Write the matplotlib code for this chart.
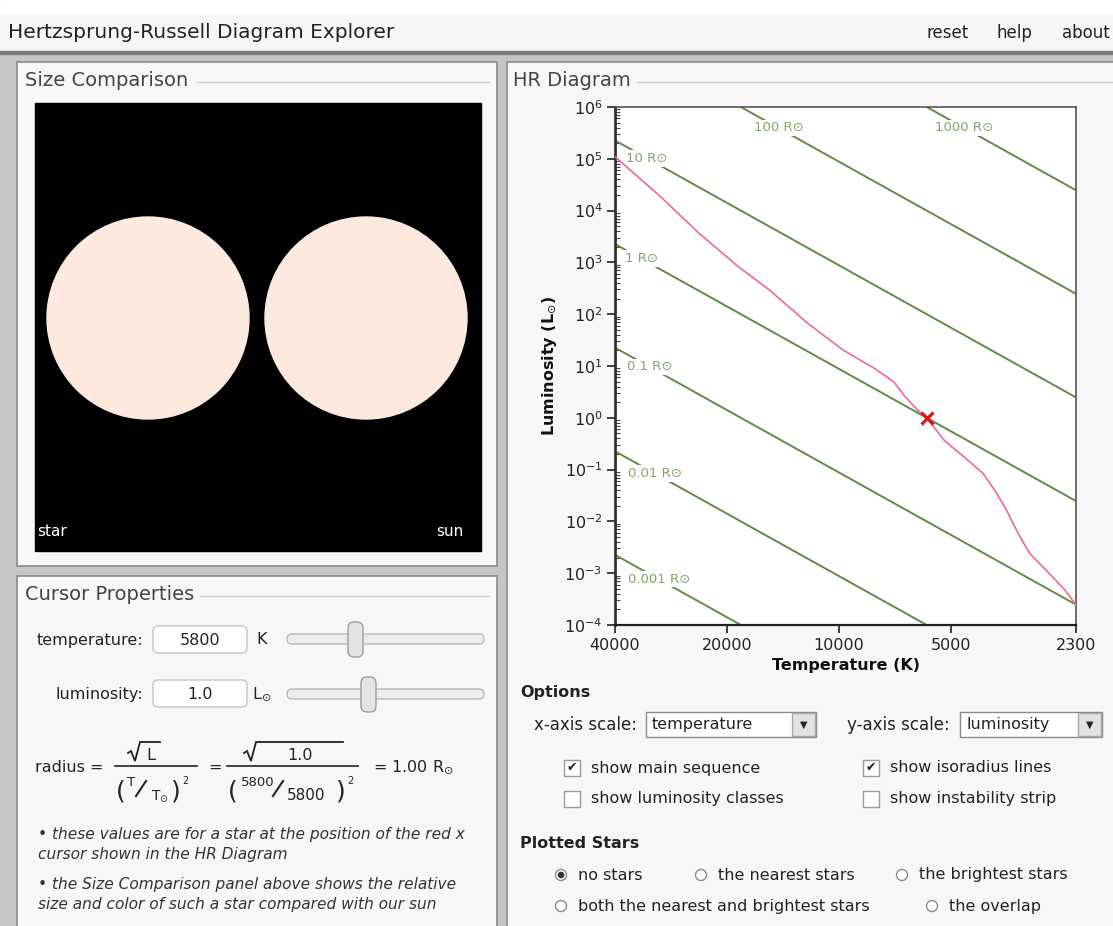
import numpy as np
import matplotlib.pyplot as plt
from matplotlib.patches import Rectangle, FancyBboxPatch, Circle
from matplotlib.ticker import FixedLocator, FixedFormatter, NullLocator, LogLocator

plt.rcParams['font.family'] = ['DejaVu Sans']
plt.rcParams['mathtext.fontset'] = 'dejavusans'

# main sequence (temperature K, luminosity Lsun)
ms_temp = [40000, 30170, 23720, 18640, 15380, 13970, 12100, 9740, 8040,
           7120, 6640, 6160, 5800, 5210, 4614, 4093, 3760, 3540, 3294, 3063,
           2718, 2468, 2300]
ms_lum = [1.10e5, 1.86e4, 3.6e3, 830, 295, 162, 66, 20.4, 9.1,
          5.0, 2.6, 1.45, 1.0, 0.37, 0.178, 0.085, 0.035, 0.0166, 0.0059, 0.0024,
          0.001, 4.8e-4, 2.45e-4]

# isoradius lines (solar radii) and where their labels sit
iso_radii = [0.001, 0.01, 0.1, 1, 10, 100, 1000]
iso_labels = ['0.001 R⊙', '0.01 R⊙', '0.1 R⊙', '1 R⊙', '10 R⊙', '100 R⊙', '1000 R⊙']
iso_label_temp = [30500, 31200, 32300, 33980, 32800, 14530, 4606]

sun_temp = 5800
cursor_temp = 5800
cursor_lum = 1.0

x_ticks = [40000, 20000, 10000, 5000, 2300]
x_ticklabels = ['40000', '20000', '10000', '5000', '2300']
y_exponents = [-4, -3, -2, -1, 0, 1, 2, 3, 4, 5, 6]

# size comparison panel
size_labels = ['star', 'sun']
cursor_radius = np.sqrt(cursor_lum) / (cursor_temp / sun_temp) ** 2
size_radii = [cursor_radius, 1.0]

W, H = 1113, 926
fig = plt.figure(figsize=(W / 100, H / 100), dpi=100)

# background layer drawn in pixel coordinates
bg = fig.add_axes([0, 0, 1, 1])
bg.set_xlim(0, W)
bg.set_ylim(H, 0)
bg.axis('off')

ink = '#222222'
bg.add_patch(Rectangle((0, 0), W, H, color='#c6c6c6'))
bg.add_patch(Rectangle((0, 0), W, 15, color='white'))
bg.add_patch(Rectangle((0, 15), W, 37, color='#f6f6f6'))
bg.add_patch(Rectangle((0, 51), W, 3, color='#7d7d7d'))

bg.text(8, 33, 'Hertzsprung-Russell Diagram Explorer', fontsize=14.5,
        color=ink, va='center')
bg.text(927, 33, 'reset', fontsize=12, color=ink, va='center')
bg.text(997, 33, 'help', fontsize=12, color=ink, va='center')
bg.text(1110, 33, 'about', fontsize=12, color=ink, va='center', ha='right')

# panels
for (x0, y0, w, h) in [(17, 62, 480, 504), (17, 576, 480, 360), (507, 62, 620, 880)]:
    bg.add_patch(Rectangle((x0, y0), w, h, facecolor='#f7f7f7',
                           edgecolor='#8c8c8c', lw=1.2))

def panel_title(x, y, s, x_line0, x_line1):
    bg.text(x, y, s, fontsize=14, color='#444444', va='center')
    bg.plot([x_line0, x_line1], [y + 2, y + 2], color='#cfcfcf', lw=1)

panel_title(25, 80, 'Size Comparison', 196, 489)
panel_title(25, 594, 'Cursor Properties', 200, 489)
panel_title(513, 80, 'HR Diagram', 637, 1113)

# size comparison
bg.add_patch(Rectangle((35, 103), 446, 448, color='black'))
for cx, r in zip([148, 366], size_radii):
    bg.add_patch(Circle((cx, 318), 101 * r, color='#fde9dd'))
bg.text(37, 532, size_labels[0], color='white', fontsize=11, va='center')
bg.text(463, 532, size_labels[1], color='white', fontsize=11, va='center', ha='right')

# cursor properties
fs = 11.5
def textbox(x, y, w, h, s):
    bg.add_patch(FancyBboxPatch((x, y), w, h, boxstyle='round,pad=0,rounding_size=5',
                                facecolor='white', edgecolor='#c4c4c4', lw=1))
    bg.text(x + w / 2, y + h / 2 + 1, s, fontsize=fs, ha='center', va='center', color=ink)

def slider(y, thumb_x):
    bg.add_patch(FancyBboxPatch((287, y - 5), 197, 10, boxstyle='round,pad=0,rounding_size=5',
                                facecolor='#ededed', edgecolor='#b8b8b8', lw=1))
    bg.add_patch(FancyBboxPatch((thumb_x, y - 17), 15, 35, boxstyle='round,pad=0,rounding_size=6',
                                facecolor='#e4e4e4', edgecolor='#9c9c9c', lw=1))

bg.text(143, 640, 'temperature:', fontsize=fs, ha='right', va='center', color=ink)
textbox(153, 626, 94, 27, f'{cursor_temp}')
bg.text(256, 640, 'K', fontsize=fs, va='center', color=ink)
slider(639, 348)

bg.text(143, 694, 'luminosity:', fontsize=fs, ha='right', va='center', color=ink)
textbox(153, 680, 94, 27, f'{cursor_lum:.1f}')
bg.text(252, 694, r'$\mathrm{L}_{\odot}$', fontsize=fs, va='center', color=ink)
slider(694, 361)

# radius formula, built piece by piece like the web page
def sqrt_sign(x0, x1):
    bg.plot([x0, x0 + 3, x0 + 7, x0 + 12, x1], [753, 751, 761, 742, 742],
            color=ink, lw=1.3, solid_joinstyle='miter')

def ratio(xl, top, bottom, x_top, x_slash, x_bot, xr, fs_top, fs_bot):
    y = 791
    bg.text(xl, y, '(', fontsize=18, ha='left', va='center', color=ink)
    bg.text(x_top, y - 9, top, fontsize=fs_top, ha='center', va='center', color=ink)
    bg.plot([x_slash - 5, x_slash + 5], [y + 5, y - 10], color=ink, lw=1.5)
    bg.text(x_bot, y + 5, bottom, fontsize=fs_bot, ha='center', va='center', color=ink)
    bg.text(xr, y, ')', fontsize=18, ha='left', va='center', color=ink)
    bg.text(xr + 11, y - 10, '2', fontsize=7, ha='left', va='center', color=ink)

bg.text(35, 767, 'radius =', fontsize=fs, va='center', color=ink)
sqrt_sign(128, 160)
bg.text(151, 755, 'L', fontsize=fs, ha='center', va='center', color=ink)
bg.plot([115, 197], [766, 766], color='#333333', lw=1.3)
ratio(116, 'T', r'$\mathrm{T}_{\odot}$', 131, 141, 160, 171, 9.5, 10)
bg.text(215, 767, '=', fontsize=fs, ha='center', va='center', color=ink)
sqrt_sign(244, 343)
bg.text(300, 755, f'{cursor_lum:.1f}', fontsize=fs, ha='center', va='center', color=ink)
bg.plot([227, 358], [766, 766], color='#333333', lw=1.3)
ratio(228, f'{cursor_temp}', f'{sun_temp}', 258, 278, 306, 336, 9.5, 11)
bg.text(373, 767, r'= %.2f $\mathrm{R}_{\odot}$' % cursor_radius, fontsize=fs,
        va='center', color=ink)

notes = ['• these values are for a star at the position of the red x',
         'cursor shown in the HR Diagram',
         '• the Size Comparison panel above shows the relative',
         'size and color of such a star compared with our sun']
for s, y in zip(notes, [834, 855, 885, 905]):
    bg.text(38, y, s, fontsize=11.1, style='italic', va='center', color='#333333')

# options
bg.text(520, 693, 'Options', fontsize=fs, fontweight='bold', va='center', color=ink)

def dropdown(x, w, s):
    bg.add_patch(Rectangle((x, 712), w, 25, facecolor='white', edgecolor='#8a8a8a', lw=1))
    bg.add_patch(Rectangle((x + w - 24, 713), 23, 23, facecolor='#e2e2e2', edgecolor='#a8a8a8', lw=1))
    bg.text(x + w - 12.5, 724.5, '▼', fontsize=7, ha='center', va='center', color=ink)
    bg.text(x + 6, 725, s, fontsize=fs, va='center', color=ink)

bg.text(534, 725, 'x-axis scale:', fontsize=12, va='center', color=ink)
dropdown(646, 170, 'temperature')
bg.text(847, 725, 'y-axis scale:', fontsize=12, va='center', color=ink)
dropdown(960, 142, 'luminosity')

checks = [(564, 768, 'show main sequence', True), (863, 768, 'show isoradius lines', True),
          (564, 799, 'show luminosity classes', False), (863, 799, 'show instability strip', False)]
for x, y, s, on in checks:
    bg.add_patch(Rectangle((x, y - 8), 16, 16, facecolor='white', edgecolor='#9a9a9a', lw=1))
    if on:
        bg.text(x + 8, y, '✔', fontsize=9, ha='center', va='center', color=ink)
    bg.text(x + 27, y, s, fontsize=fs, va='center', color=ink)

bg.text(520, 843, 'Plotted Stars', fontsize=fs, fontweight='bold', va='center', color=ink)
radios = [(561, 875, 'no stars', True), (701, 875, 'the nearest stars', False),
          (902, 875, 'the brightest stars', False),
          (561, 906, 'both the nearest and brightest stars', False), (932, 906, 'the overlap', False)]
for x, y, s, on in radios:
    bg.add_patch(Circle((x, y), 5.5, facecolor='white', edgecolor='#8a8a8a', lw=1))
    if on:
        bg.add_patch(Circle((x, y), 2.6, color='#333333'))
    bg.text(x + 17, y, s, fontsize=fs, va='center', color=ink)

# HR diagram
ax = fig.add_axes([615 / W, 1 - 625 / H, 461 / W, 518 / H])
ax.set_facecolor('white')
ax.set_xscale('log')
ax.set_yscale('log')
ax.set_xlim(40000, 2300)
ax.set_ylim(1e-4, 1e6)

t_edges = np.array([40000, 2300])
for r, lab, tl in zip(iso_radii, iso_labels, iso_label_temp):
    ax.plot(t_edges, r ** 2 * (t_edges / sun_temp) ** 4, color='#5f8c45', lw=1.4, zorder=2)
    ax.text(tl, r ** 2 * (tl / sun_temp) ** 4, lab, fontsize=9.5, color='#80a665',
            ha='center', va='center', zorder=3,
            bbox=dict(facecolor='white', edgecolor='none', pad=1.2))

ax.plot(ms_temp, ms_lum, color='#f06a88', lw=1.2, zorder=4)
ax.plot([cursor_temp], [cursor_lum], marker='x', color='#e8101a', markersize=9,
        mew=2.3, zorder=5)

ax.xaxis.set_major_locator(FixedLocator(x_ticks))
ax.xaxis.set_major_formatter(FixedFormatter(x_ticklabels))
ax.xaxis.set_minor_locator(NullLocator())
ax.yaxis.set_major_locator(FixedLocator([10.0 ** k for k in y_exponents]))
ax.yaxis.set_major_formatter(FixedFormatter([r'$\mathregular{10^{%d}}$' % k for k in y_exponents]))
ax.yaxis.set_minor_locator(LogLocator(base=10, subs=np.arange(2, 10), numticks=20))
ax.yaxis.set_minor_formatter(FixedFormatter([]))

ax.tick_params(axis='both', which='major', direction='out', length=6, width=1.2,
               labelsize=11.5, colors=ink, pad=3)
ax.tick_params(axis='y', which='minor', direction='in', length=3.5, width=0.8, color='#444444')

for side in ['top', 'right']:
    ax.spines[side].set_color('#555555')
    ax.spines[side].set_linewidth(1.2)
ax.spines['left'].set_color('#333333')
ax.spines['left'].set_linewidth(2)
ax.spines['bottom'].set_color(ink)
ax.spines['bottom'].set_linewidth(1.6)

ax.set_xlabel('Temperature (K)', fontsize=11.5, fontweight='bold', color='#111111', labelpad=4)
ax.set_ylabel(r'Luminosity ($\mathbf{L}_{\odot}$)', fontsize=11.5, fontweight='bold',
              color='#111111', labelpad=4)

fig.savefig('out.png', dpi=100)
